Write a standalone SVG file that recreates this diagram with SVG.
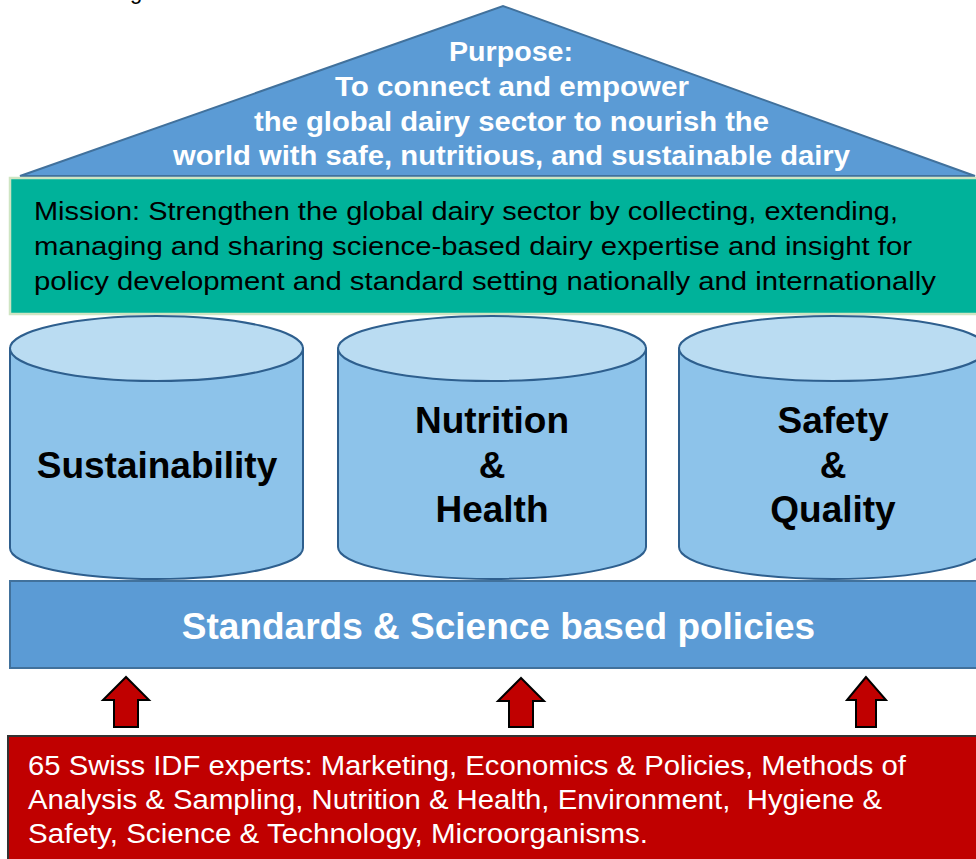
<svg xmlns="http://www.w3.org/2000/svg" width="976" height="859" viewBox="0 0 976 859">
<style>
.roof{fill:#5B9BD5;stroke:#41719C;stroke-width:2}
.ptxt{font-family:"Liberation Sans",Arial,sans-serif;font-weight:bold;font-size:27px;fill:#fff}
.mtxt{font-family:"Liberation Sans",Arial,sans-serif;font-size:26.5px;fill:#000}
.rtxt{font-family:"Liberation Sans",Arial,sans-serif;font-size:27px;fill:#fff}
.ctxt{font-family:"Liberation Sans",Arial,sans-serif;font-weight:bold;font-size:37px;fill:#000;text-anchor:middle}
.stxt{font-family:"Liberation Sans",Arial,sans-serif;font-weight:bold;font-size:37px;fill:#fff;text-anchor:middle}
.body{fill:#8DC3EA;stroke:#2E5F8E;stroke-width:2}
.top{fill:#BADCF2;stroke:#2E5F8E;stroke-width:2}
.arrow{fill:#C00000;stroke:#000;stroke-width:2;stroke-linejoin:miter}
</style>
<rect width="976" height="859" fill="#fff"/>
<text x="130" y="-1" font-family="Liberation Sans,Arial,sans-serif" font-size="22" fill="#000">g</text>

<g id="purpose">
<polygon class="roof" points="20,176 503,6 975,176"/>
<text class="ptxt" x="449" y="61" textLength="124" lengthAdjust="spacingAndGlyphs">Purpose:</text>
<text class="ptxt" x="335" y="96" textLength="354" lengthAdjust="spacingAndGlyphs">To connect and empower</text>
<text class="ptxt" x="254" y="131" textLength="515" lengthAdjust="spacingAndGlyphs">the global dairy sector to nourish the</text>
<text class="ptxt" x="173" y="165" textLength="677" lengthAdjust="spacingAndGlyphs">world with safe, nutritious, and sustainable dairy</text>
</g>

<g id="mission">
<rect x="10" y="178" width="968" height="136" fill="#00B29A" stroke="#CFE5C3" stroke-width="2.5"/>
<text class="mtxt" x="34" y="220" textLength="864" lengthAdjust="spacingAndGlyphs">Mission: Strengthen the global dairy sector by collecting, extending,</text>
<text class="mtxt" x="34" y="255" textLength="878" lengthAdjust="spacingAndGlyphs">managing and sharing science-based dairy expertise and insight for</text>
<text class="mtxt" x="34" y="290" textLength="902" lengthAdjust="spacingAndGlyphs">policy development and standard setting nationally and internationally</text>
</g>

<g id="sustainability">
<path class="body" d="M10,348.5 L10,548 A146.5,31 0 0 0 303,548 L303,348.5 Z"/>
<ellipse class="top" cx="156.5" cy="348.5" rx="146.5" ry="32.5"/>
<text class="ctxt" x="157" y="478">Sustainability</text>
</g>

<g id="nutrition">
<path class="body" d="M338,348.5 L338,547 A154,32 0 0 0 646,547 L646,348.5 Z"/>
<ellipse class="top" cx="492" cy="348.5" rx="154" ry="32.5"/>
<text class="ctxt" x="492" y="433">Nutrition</text>
<text class="ctxt" x="492" y="478">&amp;</text>
<text class="ctxt" x="492" y="522">Health</text>
</g>

<g id="safety">
<path class="body" d="M679,348.5 L679,547 A154,32 0 0 0 987,547 L987,348.5 Z"/>
<ellipse class="top" cx="833" cy="348.5" rx="154" ry="32.5"/>
<text class="ctxt" x="833" y="433">Safety</text>
<text class="ctxt" x="833" y="478">&amp;</text>
<text class="ctxt" x="833" y="522">Quality</text>
</g>

<g id="standards">
<rect x="10" y="581" width="970" height="87" fill="#5B9BD5" stroke="#41719C" stroke-width="2"/>
<text class="stxt" x="498.5" y="639">Standards &amp; Science based policies</text>
</g>

<g id="connectors">
<polygon class="arrow" points="126,677 103,700 114,700 114,727 138,727 138,700 149,700"/>
<polygon class="arrow" points="521,678 498,701 509,701 509,727 533,727 533,701 544,701"/>
<polygon class="arrow" points="866,677 847,700 856,700 856,727 876,727 876,700 886,700"/>
</g>

<g id="experts">
<rect x="8" y="736" width="972" height="130" fill="#C00000" stroke="#333" stroke-width="2"/>
<text class="rtxt" x="28" y="775" textLength="878" lengthAdjust="spacingAndGlyphs">65 Swiss IDF experts: Marketing, Economics &amp; Policies, Methods of</text>
<text class="rtxt" x="28" y="809" textLength="854" lengthAdjust="spacingAndGlyphs" xml:space="preserve">Analysis &amp; Sampling, Nutrition &amp; Health, Environment,  Hygiene &amp;</text>
<text class="rtxt" x="28" y="843" textLength="620" lengthAdjust="spacingAndGlyphs">Safety, Science &amp; Technology, Microorganisms.</text>
</g>
</svg>
